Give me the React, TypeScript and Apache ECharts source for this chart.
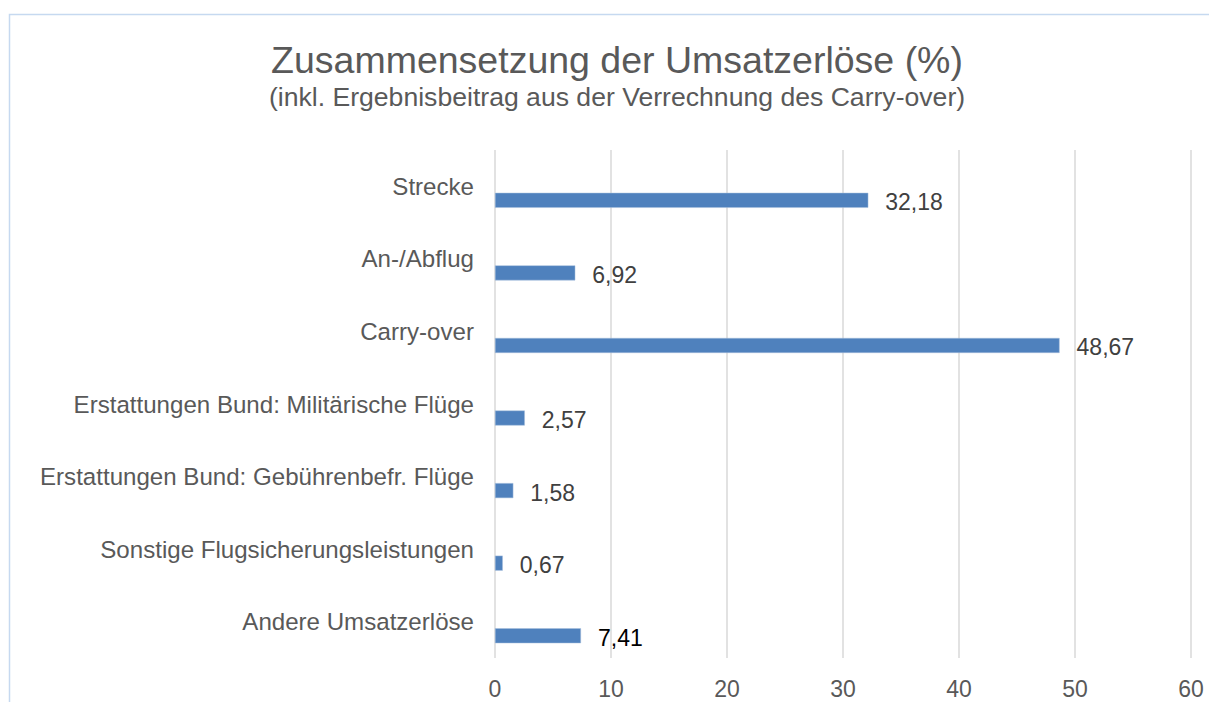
import React, { useEffect, useRef } from "react";
import * as echarts from "echarts";

const categories = [
  "Strecke",
  "An-/Abflug",
  "Carry-over",
  "Erstattungen Bund: Militärische Flüge",
  "Erstattungen Bund: Gebührenbefr. Flüge",
  "Sonstige Flugsicherungsleistungen",
  "Andere Umsatzerlöse",
];
const values = [32.18, 6.92, 48.67, 2.57, 1.58, 0.67, 7.41];
const labelColors = ["#404040", "#404040", "#404040", "#404040", "#404040", "#404040", "#000000"];
const xTicks = { min: 0, max: 60, interval: 10 };

const FONT = "'Liberation Sans', Arial, sans-serif";

export default function App() {
  const ref = useRef<HTMLDivElement>(null);
  useEffect(() => {
    if (!ref.current) return;
    const chart = echarts.init(ref.current, null, { renderer: "svg" });
    chart.setOption({
      animation: false,
      backgroundColor: "#ffffff",
      textStyle: { fontFamily: FONT },
      title: {
        text: "Zusammensetzung der Umsatzerlöse (%)",
        subtext: "(inkl. Ergebnisbeitrag aus der Verrechnung des Carry-over)",
        left: 612,
        top: 36,
        textAlign: "center",
        itemGap: 4,
        textStyle: { fontFamily: FONT, fontSize: 37.5, fontWeight: "normal", color: "#595959" },
        subtextStyle: { fontFamily: FONT, fontSize: 26.6, color: "#595959" },
      },
      graphic: [
        {
          type: "rect",
          shape: { x: 9.5, y: 14.5, width: 1300, height: 800 },
          style: { fill: "none", stroke: "#c6d9f0", lineWidth: 1.5 },
          silent: true,
        },
      ],
      grid: { left: 495, right: 18, top: 150, bottom: 44, containLabel: false },
      xAxis: {
        type: "value",
        min: xTicks.min,
        max: xTicks.max,
        interval: xTicks.interval,
        axisLine: { show: false },
        axisTick: { show: false },
        axisLabel: { fontFamily: FONT, fontSize: 23, color: "#595959", margin: 19 },
        splitLine: { show: true, lineStyle: { color: "#d9d9d9", width: 1.5 } },
      },
      yAxis: {
        type: "category",
        data: categories,
        inverse: true,
        axisLine: { show: false },
        axisTick: { show: false },
        axisLabel: { fontFamily: FONT, fontSize: 24.1, color: "#595959", margin: 21 },
        splitLine: { show: false },
      },
      series: [
        {
          type: "bar",
          name: "dummy",
          data: categories.map(() => 0),
          barWidth: 15,
          barGap: "87%",
          itemStyle: { color: "transparent" },
          silent: true,
        },
        {
          type: "bar",
          name: "Umsatzerlöse",
          barWidth: 15,
          barGap: "87%",
          data: values.map((v, i) => ({
            value: v,
            label: { color: labelColors[i] },
          })),
          itemStyle: { color: "#4f81bd", borderColor: "#a7bfdc", borderWidth: 0.5 },
          label: {
            show: true,
            position: "right",
            distance: 17,
            offset: [0, 2],
            fontFamily: FONT,
            fontSize: 23,
            formatter: (p: any) => Number(p.value).toFixed(2).replace(".", ","),
          },
        },
      ],
    });
    return () => chart.dispose();
  }, []);
  return (
    <div
      ref={ref}
      style={{ position: "fixed", left: 0, top: 0, width: 1209, height: 702 }}
    />
  );
}
